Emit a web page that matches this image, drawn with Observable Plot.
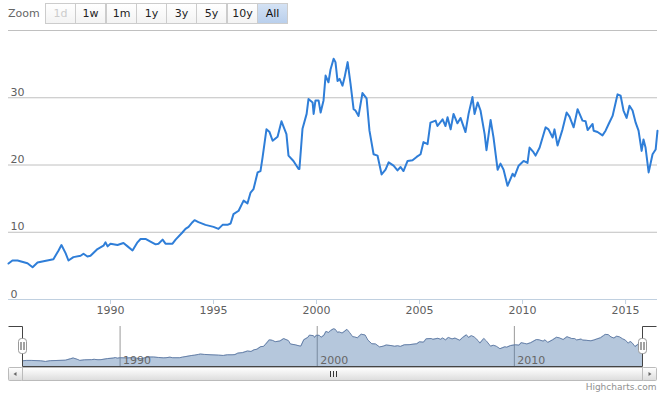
<!DOCTYPE html>
<html><head><meta charset="utf-8">
<script src="https://cdn.jsdelivr.net/npm/d3@7"></script>
<script src="https://cdn.jsdelivr.net/npm/@observablehq/plot@0.6"></script>
<style>
body{margin:0;background:#fff;font-family:"DejaVu Sans",Verdana,sans-serif;}
#wrap{position:relative;width:665px;height:399px;overflow:hidden;background:#fff;}
#main{position:absolute;left:0;top:0;}
#nav{position:absolute;left:0;top:320px;}
.zl{position:absolute;left:8px;top:7px;font-size:11px;color:#666;line-height:14px;}
.btn{position:absolute;top:3px;height:19px;width:29px;border:1px solid #cccccc;background:linear-gradient(#ffffff,#f3f3f3);font-size:11px;color:#222;text-align:center;line-height:20px;}
.btn.dis{color:#cccccc;}
.btn.sel{background:linear-gradient(#d4e2f4,#b9cfec);color:#111;}
</style></head><body><div id="wrap"><div id="main"></div><div id="nav"></div><div id="zoom"></div></div>
<script>
const years = [1985.05,1985.24,1985.49,1985.97,1986.22,1986.46,1986.75,1987.23,1987.48,1987.62,1987.82,1987.96,1988.20,1988.55,1988.69,1988.88,1989.03,1989.37,1989.66,1989.76,1989.86,1990.00,1990.34,1990.63,1990.83,1991.07,1991.31,1991.46,1991.70,1991.94,1992.19,1992.33,1992.53,1992.67,1993.01,1993.16,1993.50,1993.64,1993.79,1993.98,1994.08,1994.27,1994.61,1995.00,1995.24,1995.44,1995.68,1995.83,1995.97,1996.22,1996.46,1996.65,1996.80,1996.94,1997.14,1997.28,1997.38,1997.57,1997.72,1997.87,1998.11,1998.30,1998.54,1998.64,1998.88,1999.13,1999.17,1999.32,1999.52,1999.61,1999.81,1999.86,1999.95,2000.10,2000.20,2000.34,2000.44,2000.58,2000.68,2000.83,2000.92,2001.02,2001.12,2001.26,2001.36,2001.51,2001.65,2001.80,2001.89,2002.04,2002.23,2002.43,2002.57,2002.77,2002.96,2003.16,2003.35,2003.50,2003.74,2003.93,2004.08,2004.22,2004.42,2004.66,2004.86,2005.05,2005.19,2005.39,2005.53,2005.78,2005.87,2006.12,2006.26,2006.36,2006.51,2006.65,2006.84,2006.99,2007.23,2007.38,2007.57,2007.67,2007.82,2007.96,2008.16,2008.25,2008.45,2008.59,2008.79,2008.93,2009.08,2009.27,2009.52,2009.61,2009.81,2010.05,2010.24,2010.34,2010.53,2010.63,2010.83,2011.12,2011.26,2011.46,2011.55,2011.70,2011.94,2012.14,2012.28,2012.48,2012.67,2012.91,2013.06,2013.16,2013.40,2013.45,2013.64,2013.88,2014.03,2014.18,2014.37,2014.52,2014.61,2014.76,2014.90,2015.05,2015.19,2015.34,2015.49,2015.63,2015.78,2015.87,2015.97,2016.12,2016.31,2016.46,2016.55];
const values = [5.35,5.8,5.8,5.4,4.8,5.5,5.7,6.0,7.3,8.1,6.9,5.8,6.3,6.5,6.8,6.4,6.5,7.5,8.0,8.5,7.9,8.3,8.1,8.4,7.9,7.3,8.5,9.0,9.0,8.6,8.2,8.3,8.9,8.3,8.3,8.9,10.0,10.5,10.8,11.5,11.8,11.5,11.1,10.8,10.5,11.1,11.1,11.3,12.7,13.2,14.7,14.3,15.9,16.4,18.9,19.1,21.1,25.3,24.9,23.6,24.2,26.5,24.6,21.4,20.6,19.4,19.4,25.4,27.6,29.8,29.3,27.6,29.6,29.6,27.8,29.6,33.3,32.3,34.2,35.8,35.3,32.5,32.8,31.8,33.0,35.3,32.1,28.3,28.1,27.3,30.7,29.9,25.1,21.6,21.4,18.6,19.3,20.4,19.9,19.2,19.7,19.1,20.6,20.7,21.2,21.6,23.4,23.1,26.3,26.6,25.8,26.8,25.8,27.1,25.3,27.6,26.2,27.0,24.9,27.6,30.1,27.6,29.3,28.1,24.6,22.2,26.7,24.1,19.3,20.2,19.3,16.9,18.7,18.3,19.9,20.6,20.3,22.6,21.9,21.4,22.6,25.6,25.3,24.1,25.3,22.9,25.3,27.8,27.2,25.6,28.3,26.6,26.5,25.2,26.1,25.1,24.9,24.4,25.1,26.1,27.3,29.3,30.5,30.3,28.1,27.0,28.8,28.1,26.3,25.1,22.1,23.8,22.6,18.9,21.6,22.3,25.1];
const xTicks = [1990,1995,2000,2005,2010,2015];
const yTicks = [0,10,20,30];
const yGrid = [10,20,30,40];
const navTicks = [1990,2000,2010];
const zoomLabels = ["1d","1w","1m","1y","3y","5y","10y","All"];

const data = years.map((year,i)=>({year, value: values[i]}));
const xDomain = [years[0], years[years.length-1]];
const font = {fontFamily:"DejaVu Sans, Verdana, sans-serif", fontSize:"11px", color:"#606060", background:"transparent", overflow:"visible"};

const main = Plot.plot({
  width:665, height:320, marginTop:30, marginBottom:21, marginLeft:8, marginRight:8,
  style: font,
  x:{domain:xDomain},
  y:{domain:[0,40], axis:null},
  marks:[
    Plot.ruleY(yGrid,{stroke:"#c0c0c0", strokeWidth:1}),
    Plot.ruleY([0],{stroke:"#c0d0e0", strokeWidth:1}),
    Plot.axisX({ticks:xTicks, tickFormat:"d", tickSize:5, tickPadding:2, stroke:"#c0d0e0", fill:"#606060", label:null, fontSize:11}),
    Plot.text(yTicks,{y:d=>d, text:d=>String(d), frameAnchor:"left", textAnchor:"start", lineAnchor:"bottom", dx:2, dy:-2, fill:"#606060", fontSize:11}),
    Plot.line(data,{x:"year", y:"value", stroke:"#2f7ed8", strokeWidth:2, strokeLinejoin:"round"})
  ]
});
document.getElementById("main").appendChild(main);

const nav = Plot.plot({
  width:665, height:79, marginTop:6, marginBottom:33, marginLeft:22, marginRight:22,
  style: font,
  x:{domain:xDomain, axis:null},
  y:{domain:[0,38], axis:null},
  marks:[
    Plot.ruleX(navTicks,{stroke:"#999999", strokeWidth:1}),
    Plot.areaY(data,{x:"year", y:"value", fill:"#4572a7", fillOpacity:0.4}),
    Plot.line(data,{x:"year", y:"value", stroke:"#6680a8", strokeWidth:1}),
    Plot.text(navTicks,{x:d=>d, text:d=>String(d), frameAnchor:"bottom", textAnchor:"start", lineAnchor:"bottom", dx:3, dy:-3, fill:"#666666", fontSize:11})
  ]
});
document.getElementById("nav").appendChild(nav);

// navigator decorations positioned with the navigator's x scale
const sx = nav.scale("x");
const X0 = Math.round(sx.apply(xDomain[0])) + 0.5;
const X1 = Math.round(sx.apply(xDomain[1])) - 0.5;
const svg = d3.select(nav);
const defs = svg.append("defs");
const g1 = defs.append("linearGradient").attr("id","sbg").attr("x1",0).attr("y1",0).attr("x2",0).attr("y2",1);
g1.append("stop").attr("offset",0).attr("stop-color","#ffffff");
g1.append("stop").attr("offset",1).attr("stop-color","#dcdcdc");
const sbTop = 47.5, sbH = 13;
svg.append("rect").attr("x",X0-14).attr("y",sbTop).attr("width",14).attr("height",sbH).attr("rx",1).attr("fill","url(#sbg)").attr("stroke","#bbbbbb");
svg.append("rect").attr("x",X1).attr("y",sbTop).attr("width",14).attr("height",sbH).attr("rx",1).attr("fill","url(#sbg)").attr("stroke","#bbbbbb");
svg.append("path").attr("d",`M${X0-6} ${sbTop+4.5} L${X0-9} ${sbTop+6.5} L${X0-6} ${sbTop+8.5} Z`).attr("fill","#666");
svg.append("path").attr("d",`M${X1+6} ${sbTop+4.5} L${X1+9} ${sbTop+6.5} L${X1+6} ${sbTop+8.5} Z`).attr("fill","#666");
svg.append("rect").attr("x",X0).attr("y",sbTop).attr("width",X1-X0).attr("height",sbH).attr("rx",0).attr("fill","url(#sbg)").attr("stroke","#bbbbbb");
const cx = Math.round((X0+X1)/2)+0.5;
[-3,0,3].forEach(d=>svg.append("line").attr("x1",cx+d).attr("x2",cx+d).attr("y1",sbTop+3.5).attr("y2",sbTop+9.5).attr("stroke","#333"));
svg.append("path").attr("d",`M${X0-14} 6.5 H${X0} V46.5 H${X1} V6.5 H${X1+14}`).attr("fill","none").attr("stroke","#444444").attr("stroke-width",1);
[X0,X1].forEach(x=>{
  svg.append("rect").attr("x",x-4).attr("y",18.5).attr("width",8).attr("height",15).attr("rx",3).attr("fill","#ffffff").attr("stroke","#999999");
  [-1.5,1.5].forEach(d=>svg.append("line").attr("x1",x+d).attr("x2",x+d).attr("y1",22).attr("y2",30).attr("stroke","#444"));
});
svg.append("text").attr("x",X1+14).attr("y",70).attr("text-anchor","end").attr("fill","#909090").attr("font-size","9px").text("Highcharts.com");

const zoom = document.getElementById("zoom");
const zl = document.createElement("div"); zl.className="zl"; zl.textContent="Zoom"; zoom.appendChild(zl);
zoomLabels.forEach((t,i)=>{
  const b=document.createElement("div");
  b.className="btn"+(i===0?" dis":"")+(t==="All"?" sel":"");
  b.style.left=(45+Math.round(i*30.25))+"px";
  b.textContent=t; zoom.appendChild(b);
});
</script></body></html>
